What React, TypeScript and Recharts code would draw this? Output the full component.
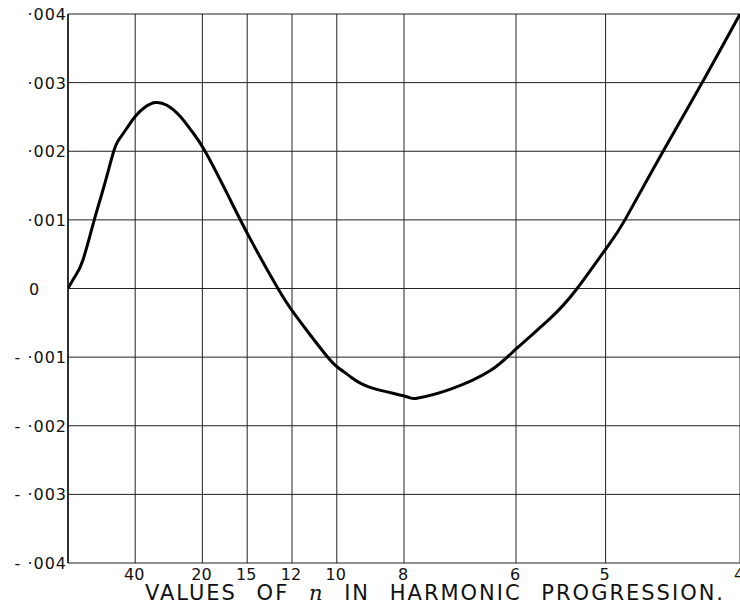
import React from "react";
import { LineChart, Line, XAxis, YAxis, CartesianGrid } from "recharts";

// reciprocal of n (1/n)
const RECIP_N = [
  0, 0.0026, 0.0056, 0.0097, 0.0134, 0.0171, 0.0193, 0.0223, 0.0253, 0.0286,
  0.0324, 0.0368, 0.0417, 0.0461, 0.051, 0.0595, 0.0677, 0.0781, 0.0837, 0.09,
  0.0964, 0.1001, 0.1049, 0.1124, 0.1254, 0.1298, 0.1421, 0.157, 0.167, 0.1793,
  0.1894, 0.2005, 0.2072, 0.2214, 0.2359, 0.25,
];
const VALUES = [
  0, 0.000175, 0.00042, 0.00099, 0.00149, 0.00201, 0.00219, 0.00236, 0.00252, 0.00264,
  0.00271, 0.00267, 0.00251, 0.00229, 0.002, 0.00136, 0.00073, 0, -0.00034, -0.00067,
  -0.00099, -0.00114, -0.00128, -0.00144, -0.00157, -0.0016, -0.00147, -0.0012, -0.00087, -0.00044,
  0, 0.0006, 0.001, 0.002, 0.003, 0.004,
];
const N_TICKS = [40, 20, 15, 12, 10, 8, 6, 5, 4];
const Y_TICKS = [0.004, 0.003, 0.002, 0.001, 0, -0.001, -0.002, -0.003, -0.004];

const data = RECIP_N.map((r, i) => ({ r, v: VALUES[i] }));
const xTicks = N_TICKS.map((n) => 1 / n);

const FONT = "'DejaVu Sans', sans-serif";
const INK = "#111";

const YTick = (props: any) => {
  const { y, payload } = props;
  const v: number = payload.value;
  if (Math.abs(v) < 1e-9) {
    return (
      <text x={34} y={y} dy={6} textAnchor="middle" fontFamily={FONT} fontSize={16} fill={INK}>
        0
      </text>
    );
  }
  const k = Math.round(Math.abs(v) * 1000);
  const s = (v < 0 ? "- ·00" : "·00") + k;
  return (
    <text x={67} y={y} dy={6} textAnchor="end" fontFamily={FONT} fontSize={16} letterSpacing={1} fill={INK}>
      {s}
    </text>
  );
};

const XTick = (props: any) => {
  const { x, payload } = props;
  const n = Math.round(1 / payload.value);
  return (
    <text x={x - 1} y={580} textAnchor="middle" fontFamily={FONT} fontSize={16} fill={INK}>
      {n}
    </text>
  );
};

const XLabel = () => (
  <text
    x={435}
    y={600}
    textAnchor="middle"
    fontFamily={FONT}
    fontSize={21}
    fill={INK}
    letterSpacing={2}
    wordSpacing={11}
  >
    VALUES OF{" "}
    <tspan fontFamily="'DejaVu Serif', serif" fontStyle="italic">n</tspan>
    {" "}IN HARMONIC PROGRESSION.
  </text>
);

export default function App() {
  return (
    <div style={{ position: "absolute", left: 0, top: 0, width: 740, height: 604, overflow: "hidden", background: "#fff" }}>
      <LineChart width={740} height={604} data={data} margin={{ top: 14, right: 0, left: 0, bottom: 0 }}>
        <CartesianGrid stroke="#222" strokeWidth={1} />
        <XAxis
          dataKey="r"
          type="number"
          domain={[0, 0.25]}
          ticks={xTicks}
          tick={<XTick />}
          tickLine={false}
          axisLine={false}
          height={41}
          interval={0}
          allowDataOverflow
          label={<XLabel />}
        />
        <YAxis
          type="number"
          domain={[-0.004, 0.004]}
          ticks={Y_TICKS}
          tick={<YTick />}
          tickLine={false}
          axisLine={{ stroke: INK, strokeWidth: 1.5 }}
          width={68}
          interval={0}
          allowDataOverflow
        />
        <Line
          dataKey="v"
          type="natural"
          stroke="#000"
          strokeWidth={3}
          dot={false}
          isAnimationActive={false}
        />
      </LineChart>
    </div>
  );
}
